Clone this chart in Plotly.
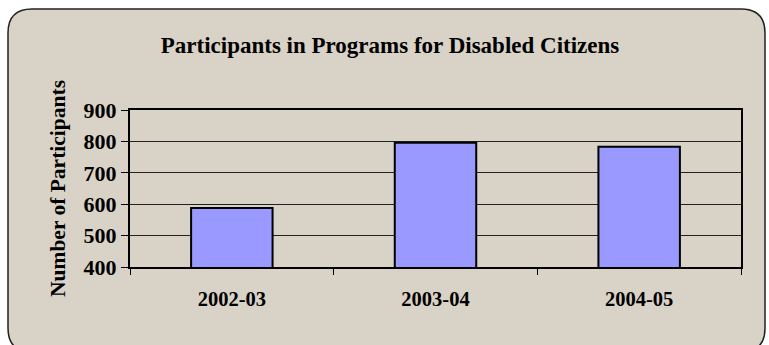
import plotly.graph_objects as go

categories = ["2002-03", "2003-04", "2004-05"]
participants = [588, 796, 783]
y_ticks = [400, 500, 600, 700, 800, 900]

W, H = 769, 345
ML, MR, MT, MB = 130, 28, 110, 78
PW, PH = W - ML - MR, H - MT - MB

def px(x):
    return (x - ML) / PW

def py(y):
    return 1 - (y - MT) / PH

FONT = "Times New Roman, Liberation Serif, serif"

fig = go.Figure()
fig.add_trace(go.Bar(
    x=categories, y=participants, width=0.4,
    marker=dict(color="#9999FF", line=dict(color="black", width=2)),
))

# rounded background frame
x0, x1, y0, y1, r = 8, 765, 9, 352, 24
path = (f"M {px(x0 + r)},{py(y0)} L {px(x1 - r)},{py(y0)} "
        f"Q {px(x1)},{py(y0)} {px(x1)},{py(y0 + r)} "
        f"L {px(x1)},{py(y1 - r)} Q {px(x1)},{py(y1)} {px(x1 - r)},{py(y1)} "
        f"L {px(x0 + r)},{py(y1)} Q {px(x0)},{py(y1)} {px(x0)},{py(y1 - r)} "
        f"L {px(x0)},{py(y0 + r)} Q {px(x0)},{py(y0)} {px(x0 + r)},{py(y0)} Z")
fig.add_shape(type="path", path=path, xref="paper", yref="paper",
              fillcolor="#D9D2C6", line=dict(color="#222", width=1.5), layer="below")

fig.update_layout(
    width=W, height=H,
    margin=dict(l=ML, r=MR, t=MT, b=MB),
    paper_bgcolor="white", plot_bgcolor="white",
    showlegend=False,
    font=dict(family=FONT, size=20, color="black"),
    title=dict(text="<b>Participants in Programs for Disabled Citizens</b>",
               x=390 / W, xanchor="center", xref="container",
               y=1 - 45 / H, yanchor="middle", yref="container",
               font=dict(family=FONT, size=23, color="black")),
    bargap=0.6,
)
fig.update_xaxes(
    type="category", tickson="boundaries", ticks="outside", ticklen=6,
    tickcolor="black", tickwidth=1, showgrid=False,
    showline=True, linecolor="black", linewidth=2, mirror=True,
    tickfont=dict(family=FONT, size=20.5, color="black"),
    tickvals=categories, ticktext=[f"<b>{c}</b>" for c in categories],
    ticklabelstandoff=12,
)
fig.update_yaxes(
    range=[400, 900], tickvals=y_ticks, ticktext=[f"<b>{v}</b>" for v in y_ticks],
    ticks="outside", ticklen=7, tickcolor="black",
    showgrid=True, gridcolor="#222", gridwidth=1,
    showline=True, linecolor="black", linewidth=2, mirror=True,
    zeroline=False,
    tickfont=dict(family=FONT, size=22, color="black"),
    title=dict(text="<b>Number of Participants</b>", standoff=12,
               font=dict(family=FONT, size=21.5, color="black")),
)

fig.write_html("out.html")
